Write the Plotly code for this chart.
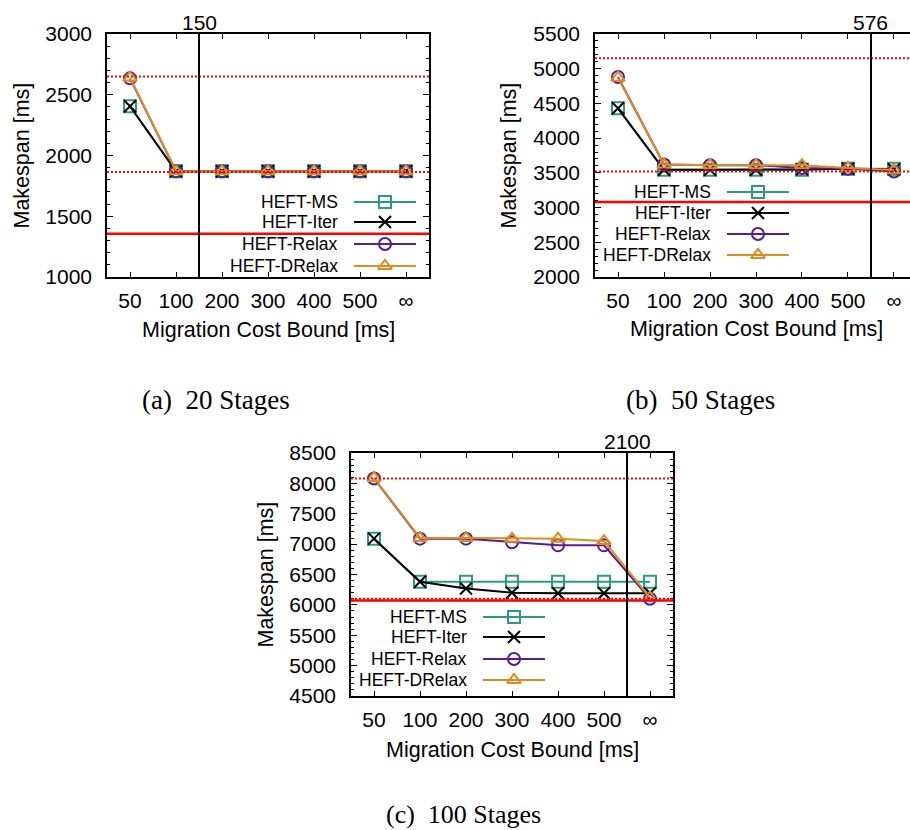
import plotly.graph_objects as go

# ---------------- data ----------------
categories = ["50", "100", "200", "300", "400", "500", "∞"]
series_names = ["HEFT-MS", "HEFT-Iter", "HEFT-Relax", "HEFT-DRelax"]

a_ms = [2405, 1870, 1870, 1870, 1870, 1870, 1870]
a_iter = [2405, 1870, 1870, 1870, 1870, 1870, 1870]
a_relax = [2635, 1870, 1870, 1870, 1870, 1870, 1870]
a_drelax = [2640, 1870, 1870, 1870, 1870, 1870, 1870]
a_ref_dotted = [2650, 1865]
a_ref_solid = [1355]
a_vline_pos = 1.5
a_vline_label = "150"

b_ms = [4430, 3545, 3545, 3545, 3545, 3560, 3560]
b_iter = [4430, 3545, 3545, 3545, 3550, 3560, 3550]
b_relax = [4880, 3620, 3610, 3610, 3570, 3560, 3520]
b_drelax = [4870, 3620, 3610, 3610, 3610, 3570, 3540]
b_ref_dotted = [5150, 3520]
b_ref_solid = [3080]
b_vline_pos = 5.5
b_vline_label = "576"

c_ms = [7090, 6380, 6380, 6380, 6380, 6380, 6380]
c_iter = [7090, 6380, 6270, 6200, 6190, 6190, 6190]
c_relax = [8080, 7090, 7090, 7030, 6980, 6980, 6100]
c_drelax = [8090, 7100, 7100, 7090, 7090, 7050, 6120]
c_ref_dotted = [8080, 6100]
c_ref_solid = [6070]
c_vline_pos = 5.5
c_vline_label = "2100"

captions = ["(a)  20 Stages", "(b)  50 Stages", "(c)  100 Stages"]
x_title = "Migration Cost Bound [ms]"
y_title = "Makespan [ms]"

# ---------------- style ----------------
W, H = 910, 830
colors = ["#2a9a82", "#000000", "#561c96", "#df8c1c"]
symbols = ["square-open", "x-thin-open", "circle-open", "triangle-up-open"]
SANS = "Liberation Sans, Arial, sans-serif"
SERIF = "Liberation Serif, Times New Roman, serif"
FS_TICK = 21
FS_TITLE = 21.5
FS_LEG = 17.5

# panel geometry in pixels: left, right, top, bottom of plot area
panels = [
    dict(key="", box=(107, 429, 34, 277), xr=[-0.5, 6.5], yr=[1000, 3000], mirror_y=True,
         data=[a_ms, a_iter, a_relax, a_drelax], dotted=a_ref_dotted, solid=a_ref_solid,
         vpos=a_vline_pos, vlab=a_vline_label,
         leg=dict(tx=233, x0=247, xm=278, x1=309, rows=[75, 55, 33, 11]),
         ytitle_x=21, xtitle_cx=268, xtitle_y=330, cap=(216, 400)),
    dict(key="2", box=(595, 910, 34, 277), xr=[-0.5, 6.348], yr=[2000, 5500], mirror_y=False,
         data=[b_ms, b_iter, b_relax, b_drelax], dotted=b_ref_dotted, solid=b_ref_solid,
         vpos=b_vline_pos, vlab=b_vline_label,
         leg=dict(tx=118, x0=132, xm=163, x1=194, rows=[85, 64, 43, 22]),
         ytitle_x=508, xtitle_cx=756, xtitle_y=329, cap=(700, 400)),
    dict(key="3", box=(351, 673, 453, 696), xr=[-0.5, 6.5], yr=[4500, 8500], mirror_y=True,
         data=[c_ms, c_iter, c_relax, c_drelax], dotted=c_ref_dotted, solid=c_ref_solid,
         vpos=c_vline_pos, vlab=c_vline_label,
         leg=dict(tx=118, x0=132, xm=163, x1=194, rows=[79, 59, 37, 16]),
         ytitle_x=265, xtitle_cx=512, xtitle_y=750, cap=(464, None)),
]

fig = go.Figure()
shapes = []
annotations = []
layout = {}

xs = list(range(len(categories)))

for i, p in enumerate(panels):
    k = p["key"]
    l, r, t, b = p["box"]
    xdom = [l / W, min(r / W, 1.0)]
    ydom = [1 - b / H, 1 - t / H]
    xa = "xaxis" + k
    ya = "yaxis" + k
    xref = "x" + k
    yref = "y" + k
    layout[xa] = dict(
        domain=xdom, anchor=yref, range=p["xr"], tickmode="array", tickvals=xs,
        ticktext=categories, ticks="inside", ticklen=5, tickwidth=1, tickcolor="black",
        showline=True, linecolor="black", linewidth=1.5, mirror="ticks",
        showgrid=False, zeroline=False, ticklabelstandoff=4, automargin=False,
        tickfont=dict(family=SANS, size=FS_TICK, color="black"),
    )
    layout[ya] = dict(
        domain=ydom, anchor=xref, range=p["yr"], dtick=500, tick0=0,
        ticks="inside", ticklen=6, tickwidth=1, tickcolor="black",
        minor=dict(dtick=100, ticks="inside", ticklen=3, tickcolor="black", tickwidth=1),
        showline=True, linecolor="black", linewidth=1.5,
        mirror="ticks" if p["mirror_y"] else False,
        showgrid=False, zeroline=False, ticklabelstandoff=9, automargin=False,
        tickfont=dict(family=SANS, size=FS_TICK, color="black"),
    )
    # overlay axes for the legend, in pixel units of the plot area
    lk = str(4 + i)
    lw = min(r, W) - l
    layout["xaxis" + lk] = dict(overlaying=xref, anchor="y" + lk, range=[0, lw], visible=False,
                                fixedrange=True, automargin=False)
    layout["yaxis" + lk] = dict(overlaying=yref, anchor="x" + lk, range=[0, b - t], visible=False,
                                fixedrange=True, automargin=False)

    # series
    for s, vals in enumerate(p["data"]):
        fig.add_trace(go.Scatter(
            x=xs, y=vals, mode="lines+markers", name=series_names[s], showlegend=False,
            line=dict(color=colors[s], width=2),
            marker=dict(symbol=symbols[s], size=12, color=colors[s],
                        line=dict(color=colors[s], width=2)),
            xaxis=xref, yaxis=yref, cliponaxis=(k == "2"),
        ))

    # legend (gnuplot style: text left, sample right)
    lg = p["leg"]
    for s in range(len(series_names)):
        yy = lg["rows"][s]
        fig.add_trace(go.Scatter(
            x=[lg["x0"], lg["x1"]], y=[yy, yy], mode="lines", showlegend=False,
            line=dict(color=colors[s], width=2), hoverinfo="skip",
            xaxis="x" + lk, yaxis="y" + lk,
        ))
        fig.add_trace(go.Scatter(
            x=[lg["xm"]], y=[yy], mode="markers", showlegend=False,
            marker=dict(symbol=symbols[s], size=12, color=colors[s],
                        line=dict(color=colors[s], width=2)), hoverinfo="skip",
            xaxis="x" + lk, yaxis="y" + lk,
        ))
        annotations.append(dict(
            x=lg["tx"], y=yy, xref="x" + lk, yref="y" + lk, text=series_names[s],
            showarrow=False, xanchor="right", yanchor="middle",
            font=dict(family=SANS, size=FS_LEG, color="black"),
        ))

    # reference lines
    for v in p["dotted"]:
        shapes.append(dict(type="line", xref=xref + " domain", yref=yref, x0=0, x1=1, y0=v, y1=v,
                           line=dict(color="#ff0000", width=2, dash="2px,2px"), layer="above"))
    for v in p["solid"]:
        shapes.append(dict(type="line", xref=xref + " domain", yref=yref, x0=0, x1=1, y0=v, y1=v,
                           line=dict(color="#ff0000", width=2.5), layer="above"))
    shapes.append(dict(type="line", xref=xref, yref=yref + " domain", x0=p["vpos"], x1=p["vpos"],
                       y0=0, y1=1, line=dict(color="black", width=2), layer="above"))
    annotations.append(dict(x=p["vpos"], y=1, xref=xref, yref=yref + " domain", text=p["vlab"],
                            showarrow=False, xanchor="center", yanchor="bottom", yshift=-2,
                            font=dict(family=SANS, size=FS_TICK, color="black")))

    # axis titles
    annotations.append(dict(x=p["xtitle_cx"] / W, y=1 - p["xtitle_y"] / H, xref="paper", yref="paper",
                            text=x_title, showarrow=False, xanchor="center", yanchor="middle",
                            font=dict(family=SANS, size=FS_TITLE, color="black")))
    annotations.append(dict(x=p["ytitle_x"] / W, y=1 - (t + b) / 2 / H, xref="paper", yref="paper",
                            text=y_title, showarrow=False, xanchor="center", yanchor="middle",
                            textangle=-90, font=dict(family=SANS, size=FS_TITLE, color="black")))
    # caption
    cx, cy = p["cap"]
    if cy is None:
        annotations.append(dict(x=cx / W, y=0, xref="paper", yref="paper",
                                text=captions[i], showarrow=False, xanchor="center",
                                yanchor="bottom", borderpad=0,
                                font=dict(family=SERIF, size=26, color="black")))
    else:
        annotations.append(dict(x=cx / W, y=1 - cy / H, xref="paper", yref="paper",
                                text=captions[i], showarrow=False, xanchor="center",
                                yanchor="middle",
                                font=dict(family=SERIF, size=27, color="black")))

fig.update_layout(
    width=W, height=H, margin=dict(l=0, r=0, t=0, b=0, pad=0, autoexpand=False),
    paper_bgcolor="white", plot_bgcolor="rgba(0,0,0,0)",
    shapes=shapes, annotations=annotations, showlegend=False,
    **layout,
)

fig.write_html("out.html")
